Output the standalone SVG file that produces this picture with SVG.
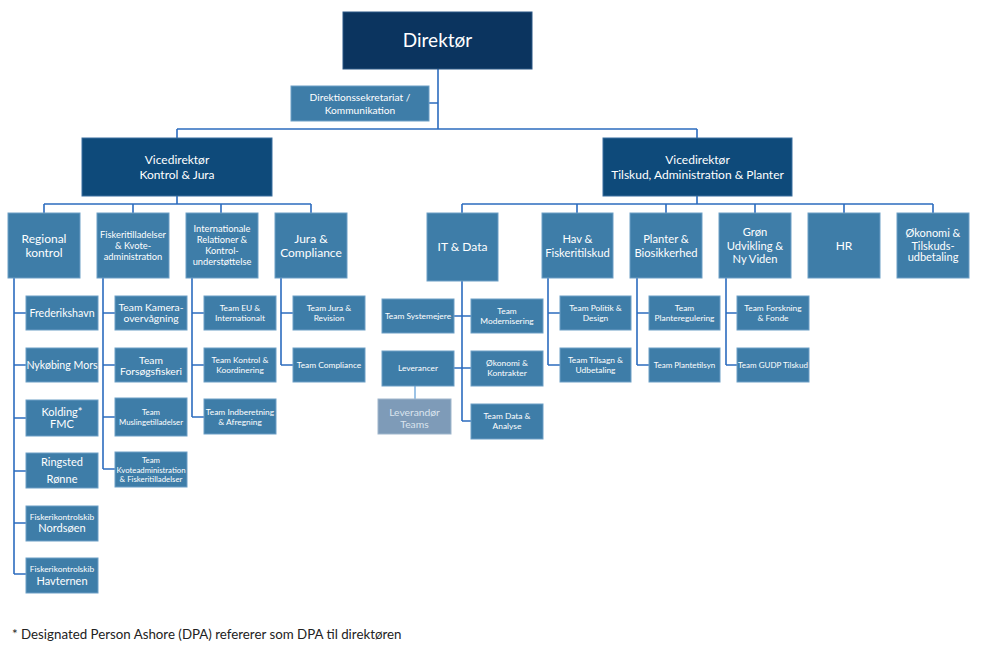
<svg xmlns="http://www.w3.org/2000/svg" width="992" height="649" viewBox="0 0 992 649">
<style>
  .dir{fill:#0b345f;stroke:#2a5685;stroke-width:1}
  .vd{fill:#0e4a7a;stroke:#3a6f9f;stroke-width:1}
  .bx{fill:#3e7da8;stroke:#6d9fc6;stroke-width:1}
  .lev{fill:#7e9bb8;stroke:#9fb6cc;stroke-width:1}
  .ln{fill:none;stroke:#2c6cbf;stroke-width:1.6}
  .lnl{fill:none;stroke:#5b9bd5;stroke-width:1.2}
  text{font-family:"Lato","Open Sans","Liberation Sans",sans-serif;fill:#ffffff;text-anchor:middle}
  .t20{font-size:19px}
  .t13{font-size:12px}
  .t12b{font-size:11.2px}
  .t12{font-size:11px}
  .t11c{font-size:10.6px}
  .t11{font-size:10.3px}
  .tsek{font-size:10.2px}
  .t10{font-size:9.3px}
  .t9{font-size:8.4px}
  .t8s{font-size:8px}
  .t8{font-size:7.8px}
  .levt{fill:#dbe4ee}
  .foot{font-family:"Lato","Open Sans","Liberation Sans",sans-serif;font-size:13.3px;fill:#222222;text-anchor:start}
</style>

<g id="connectors">
  <path class="ln" d="M438 69V129M429 103H438M177 129H697M177 129V138M697 129V138"/>
  <path class="ln" d="M177 196V204M44 204H311M44 204V213M133 204V213M221 204V213M311 204V213"/>
  <path class="ln" d="M14 278V574M14 313H26M14 365H26M14 418H26M14 471H26M14 523H26M14 574H26"/>
  <path class="ln" d="M103 278V469M103 313H115M103 365H115M103 417H115M103 469H115"/>
  <path class="ln" d="M192 278V417M192 313H204M192 365H204M192 417H204"/>
  <path class="ln" d="M281 278V365M281 313H293M281 365H293"/>
  <path class="ln" d="M697 196V204M462 204H933M462 204V213M577 204V213M666 204V213M755 204V213M844 204V213M933 204V213"/>
  <path class="ln" d="M462 281V421M454 316H471M454 368H471M462 421H471"/>
  <path class="lnl" d="M415 386V399"/>
  <path class="ln" d="M548 278V365M548 313H560M548 365H560"/>
  <path class="ln" d="M637 278V365M637 313H649M637 365H649"/>
  <path class="ln" d="M726 278V365M726 313H737M726 365H737"/>
</g>

<g id="direktor"><rect class="dir" x="343" y="12" width="189" height="57"/><text class="t20" x="437.5" y="47">Direktør</text></g>
<g id="sekretariat"><rect class="bx" x="291" y="86" width="138" height="35"/><text class="tsek" x="360" y="101">Direktionssekretariat /</text><text class="tsek" x="360" y="113.5">Kommunikation</text></g>

<g id="vd1"><rect class="vd" x="82" y="138" width="190" height="58"/><text class="t13" x="177" y="164">Vicedirektør</text><text class="t13" x="177" y="179">Kontrol &amp; Jura</text></g>
<g id="vd2"><rect class="vd" x="603" y="138" width="189" height="58"/><text class="t13" x="697.5" y="163.5">Vicedirektør</text><text class="t13" x="697.5" y="179">Tilskud, Administration &amp; Planter</text></g>

<g id="regional"><rect class="bx" x="8" y="213" width="72" height="65"/><text class="t13" x="44" y="243">Regional</text><text class="t13" x="44" y="256.5">kontrol</text></g>
<g id="fiskeritilladelser"><rect class="bx" x="97" y="213" width="72" height="65"/><text class="t10" x="133" y="238">Fiskeritilladelser</text><text class="t10" x="133" y="249">&amp; Kvote-</text><text class="t10" x="133" y="260">administration</text></g>
<g id="internationale"><rect class="bx" x="186" y="213" width="72" height="65"/><text class="t10" x="222" y="232">Internationale</text><text class="t10" x="222" y="243">Relationer  &amp;</text><text class="t10" x="222" y="254">Kontrol-</text><text class="t10" x="222" y="265">understøttelse</text></g>
<g id="jura"><rect class="bx" x="275" y="213" width="72" height="65"/><text class="t13" x="311" y="243">Jura &amp;</text><text class="t13" x="311" y="256.5">Compliance</text></g>

<g id="frederikshavn"><rect class="bx" x="26" y="296" width="72" height="34"/><text class="t11c" x="62" y="317">Frederikshavn</text></g>
<g id="nykobing"><rect class="bx" x="26" y="348" width="72" height="34"/><text class="t11c" x="62" y="369">Nykøbing Mors</text></g>
<g id="kolding"><rect class="bx" x="26" y="400" width="72" height="36"/><text class="t12" x="62" y="416">Kolding*</text><text class="t12" x="62" y="428">FMC</text></g>
<g id="ringsted"><rect class="bx" x="26" y="453" width="72" height="35"/><text class="t12" x="62" y="466">Ringsted</text><text class="t12" x="62" y="483">Rønne</text></g>
<g id="nordsoen"><rect class="bx" x="26" y="506" width="72" height="35"/><text class="t9" x="62" y="520">Fiskerikontrolskib</text><text class="t12" x="62" y="532">Nordsøen</text></g>
<g id="havternen"><rect class="bx" x="26" y="558" width="72" height="35"/><text class="t9" x="62" y="572">Fiskerikontrolskib</text><text class="t12" x="62" y="585">Havternen</text></g>

<g id="kamera"><rect class="bx" x="115" y="296" width="72" height="34"/><text class="t11" x="151" y="311">Team Kamera-</text><text class="t11" x="151" y="322">overvågning</text></g>
<g id="forsogsfiskeri"><rect class="bx" x="115" y="348" width="72" height="34"/><text class="t11" x="151" y="364">Team</text><text class="t11" x="151" y="375">Forsøgsfiskeri</text></g>
<g id="muslinge"><rect class="bx" x="115" y="398" width="72" height="38"/><text class="t8" x="151" y="415">Team</text><text class="t8" x="151" y="425">Muslingetilladelser</text></g>
<g id="kvote"><rect class="bx" x="115" y="452" width="72" height="35"/><text class="t8" x="151" y="463">Team</text><text class="t8" x="151" y="472.5">Kvoteadministration</text><text class="t8" x="151" y="482">&amp; Fiskeritilladelser</text></g>

<g id="eu"><rect class="bx" x="204" y="296" width="72" height="34"/><text class="t9" x="240" y="311">Team EU &amp;</text><text class="t9" x="240" y="321">Internationalt</text></g>
<g id="kontrolkoord"><rect class="bx" x="204" y="348" width="72" height="34"/><text class="t9" x="240" y="363">Team Kontrol &amp;</text><text class="t9" x="240" y="373">Koordinering</text></g>
<g id="indberetning"><rect class="bx" x="204" y="399" width="72" height="35"/><text class="t9" x="240" y="415">Team Indberetning</text><text class="t9" x="240" y="425">&amp; Afregning</text></g>

<g id="jurarevision"><rect class="bx" x="293" y="296" width="72" height="34"/><text class="t9" x="329" y="311">Team Jura &amp;</text><text class="t9" x="329" y="321">Revision</text></g>
<g id="compliance"><rect class="bx" x="293" y="348" width="72" height="34"/><text class="t9" x="329" y="368">Team Compliance</text></g>

<g id="itdata"><rect class="bx" x="427" y="213" width="71" height="68"/><text class="t13" x="462.5" y="251">IT &amp; Data</text></g>
<g id="hav"><rect class="bx" x="542" y="213" width="71" height="65"/><text class="t12b" x="577.5" y="243">Hav &amp;</text><text class="t12b" x="577.5" y="256.5">Fiskeritilskud</text></g>
<g id="planter"><rect class="bx" x="630" y="213" width="72" height="65"/><text class="t12b" x="666" y="243">Planter &amp;</text><text class="t12b" x="666" y="256.5">Biosikkerhed</text></g>
<g id="gron"><rect class="bx" x="719" y="213" width="72" height="65"/><text class="t12b" x="755" y="236">Grøn</text><text class="t12b" x="755" y="249.5">Udvikling &amp;</text><text class="t12b" x="755" y="263">Ny Viden</text></g>
<g id="hr"><rect class="bx" x="808" y="213" width="72" height="65"/><text class="t13" x="844" y="249.5">HR</text></g>
<g id="okonomi"><rect class="bx" x="897" y="213" width="72" height="65"/><text class="t12" x="933" y="237">Økonomi &amp;</text><text class="t12" x="933" y="249.5">Tilskuds-</text><text class="t12" x="933" y="261">udbetaling</text></g>

<g id="systemejere"><rect class="bx" x="382" y="299" width="72" height="34"/><text class="t9" x="418" y="319">Team Systemejere</text></g>
<g id="leverancer"><rect class="bx" x="382" y="351" width="72" height="35"/><text class="t9" x="418" y="371">Leverancer</text></g>
<g id="leverandor"><rect class="lev" x="378" y="399" width="73" height="35"/><text class="t11 levt" x="414.5" y="416">Leverandør</text><text class="t11 levt" x="414.5" y="428">Teams</text></g>
<g id="modernisering"><rect class="bx" x="471" y="299" width="72" height="34"/><text class="t9" x="507" y="314">Team</text><text class="t9" x="507" y="324">Modernisering</text></g>
<g id="okokontrakter"><rect class="bx" x="471" y="351" width="72" height="35"/><text class="t9" x="507" y="366">Økonomi &amp;</text><text class="t9" x="507" y="376">Kontrakter</text></g>
<g id="dataanalyse"><rect class="bx" x="471" y="404" width="72" height="35"/><text class="t9" x="507" y="419">Team Data &amp;</text><text class="t9" x="507" y="429">Analyse</text></g>

<g id="politik"><rect class="bx" x="560" y="296" width="71" height="34"/><text class="t9" x="595.5" y="311">Team Politik &amp;</text><text class="t9" x="595.5" y="321">Design</text></g>
<g id="tilsagn"><rect class="bx" x="560" y="348" width="71" height="34"/><text class="t9" x="595.5" y="363">Team Tilsagn &amp;</text><text class="t9" x="595.5" y="373">Udbetaling</text></g>
<g id="planteregulering"><rect class="bx" x="649" y="296" width="71" height="34"/><text class="t9" x="684.5" y="311">Team</text><text class="t9" x="684.5" y="321">Planteregulering</text></g>
<g id="plantetilsyn"><rect class="bx" x="649" y="348" width="71" height="34"/><text class="t8s" x="684.5" y="368">Team Plantetilsyn</text></g>
<g id="forskning"><rect class="bx" x="737" y="296" width="72" height="34"/><text class="t9" x="773" y="311">Team Forskning</text><text class="t9" x="773" y="321">&amp; Fonde</text></g>
<g id="gudp"><rect class="bx" x="737" y="348" width="72" height="34"/><text class="t8s" x="773" y="368">Team GUDP Tilskud</text></g>

<text class="foot" x="12" y="638.5">*  Designated Person Ashore (DPA) refererer som DPA til direktøren</text>
</svg>
